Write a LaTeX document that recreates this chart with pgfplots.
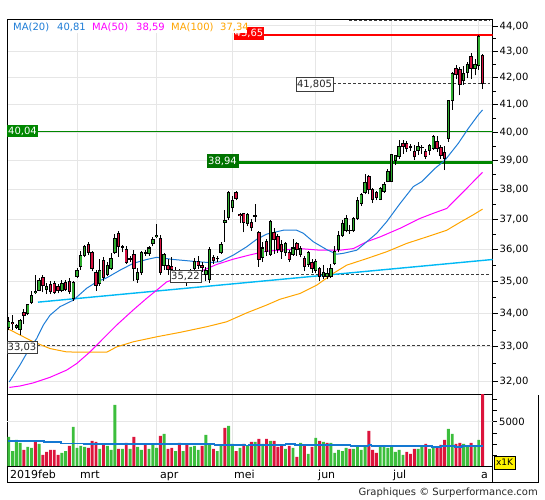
\documentclass[border=0pt]{standalone}
\usepackage{pgfplots}
\pgfplotsset{compat=1.18}
\usepackage{pgfplotstable}
\usepackage{fontspec}
\setmainfont{DejaVu Sans}
\definecolor{cgreen}{RGB}{46,172,46}
\definecolor{cred}{RGB}{214,16,64}
\definecolor{vgreen}{RGB}{60,190,60}
\definecolor{vred}{RGB}{220,20,60}
\definecolor{ma20}{RGB}{30,125,215}
\definecolor{ma50}{RGB}{255,0,255}
\definecolor{ma100}{RGB}{255,165,0}
\definecolor{trend}{RGB}{0,185,245}
\definecolor{gridgray}{RGB}{230,230,230}
\definecolor{dgreen}{RGB}{0,135,0}
\definecolor{dashgray}{RGB}{60,60,60}
\definecolor{vma}{RGB}{20,120,210}

\pgfplotstableread{
k o h l c
-18 33.59 33.89 33.49 33.77
-17 33.74 33.94 33.49 33.69
-16 33.59 33.69 33.54 33.65
-15 33.53 33.84 33.34 33.79
-14 34.04 34.14 33.69 33.94
-13 33.99 34.29 33.94 34.27
-12 34.34 34.71 34.29 34.57
-11 34.64 35.20 34.60 34.68
-10 34.72 35.10 34.68 35.02
-9 35.12 35.20 34.65 34.85
-8 34.75 34.95 34.60 34.82
-7 34.90 35.00 34.60 34.68
-6 34.92 35.00 34.60 34.66
-5 34.82 34.90 34.62 34.70
-4 34.72 35.05 34.65 34.92
-3 34.95 35.05 34.70 34.75
-2 34.98 35.10 34.60 34.68
-1 34.45 35.00 34.40 34.95
0 35.16 35.41 35.11 35.33
1 35.48 35.96 35.36 35.83
2 35.83 36.16 35.76 36.10
3 36.17 36.27 35.82 35.92
4 35.90 35.96 35.31 35.41
5 35.29 35.36 34.70 34.87
6 34.92 35.71 34.85 35.35
7 35.67 35.76 35.01 35.11
8 35.21 35.61 35.16 35.51
9 35.41 35.91 35.36 35.73
10 35.91 36.52 35.86 36.38
11 36.54 36.62 35.77 36.12
12 36.09 36.17 35.92 36.07
13 36.01 36.11 35.56 35.61
14 35.69 35.81 35.61 35.71
15 35.86 36.01 35.01 35.41
16 35.06 35.41 34.96 35.26
17 35.26 35.96 35.21 35.91
18 35.89 36.01 35.81 35.91
19 35.89 36.11 35.81 36.06
20 36.19 36.42 36.11 36.32
21 36.42 36.85 36.37 36.47
22 36.37 36.47 35.21 35.29
23 35.51 35.91 35.36 35.86
24 35.51 35.71 35.21 35.38
25 35.46 35.76 35.06 35.36
26 35.15 35.45 35.05 35.30
27 35.30 35.40 35.00 35.15
28 35.10 35.35 34.95 35.25
29 35.20 35.30 34.85 35.05
30 35.05 35.40 34.95 35.30
31 35.41 35.75 35.30 35.64
32 35.64 35.80 35.40 35.51
33 35.51 35.60 35.30 35.44
34 35.22 35.45 35.00 35.35
35 35.04 36.10 34.95 36.01
36 35.76 35.82 35.56 35.67
37 35.71 35.81 35.61 35.73
38 35.91 36.26 35.86 36.16
39 36.90 37.32 36.27 36.97
40 37.05 37.94 36.98 37.89
41 37.38 37.78 37.23 37.63
42 37.89 37.94 37.63 37.69
43 37.17 37.22 36.87 37.12
44 37.20 37.22 36.57 36.90
45 36.87 37.22 36.77 37.17
46 36.89 37.02 36.62 36.72
47 37.10 37.52 36.92 37.12
48 36.56 36.62 35.46 35.69
49 35.76 36.26 35.61 36.06
50 36.26 36.36 35.81 35.96
51 35.86 36.97 35.81 36.92
52 36.57 36.72 35.88 36.32
53 36.42 36.52 35.91 36.01
54 36.16 36.31 35.71 35.96
55 35.91 36.26 35.81 36.21
56 35.91 36.01 35.61 35.69
57 35.86 36.36 35.81 36.06
58 36.21 36.26 35.81 36.01
59 35.86 36.11 35.76 36.03
60 35.73 35.79 35.31 35.46
61 35.54 35.96 35.46 35.91
62 35.61 35.71 35.26 35.39
63 35.34 35.71 35.26 35.63
64 35.41 35.46 35.01 35.16
65 35.16 35.51 35.06 35.28
66 35.16 35.41 35.06 35.24
67 35.16 35.56 35.11 35.41
68 35.56 36.11 35.51 35.96
69 36.02 36.62 35.92 36.47
70 36.47 36.97 36.42 36.87
71 36.62 37.13 36.57 37.03
72 36.64 36.82 36.52 36.62
73 36.62 37.08 36.57 37.03
74 37.03 37.74 36.98 37.64
75 37.54 37.89 37.44 37.82
76 37.92 38.54 37.84 38.24
77 38.44 38.49 37.84 37.99
78 37.99 38.04 37.54 37.66
79 37.89 37.94 37.64 37.74
80 37.67 38.09 37.64 38.04
81 37.94 38.24 37.89 38.16
82 38.27 38.70 38.25 38.63
83 38.28 39.25 38.25 39.20
84 39.00 39.20 38.85 39.17
85 39.13 39.73 39.05 39.49
86 39.60 39.73 39.25 39.49
87 39.62 39.70 39.30 39.42
88 39.48 39.60 39.35 39.50
89 39.31 39.55 39.02 39.13
90 39.37 39.65 39.20 39.49
91 39.46 39.55 39.25 39.48
92 39.31 39.40 39.05 39.16
93 39.37 39.60 39.20 39.52
94 39.44 39.92 39.37 39.87
95 39.66 39.88 39.30 39.44
96 39.46 39.55 39.05 39.19
97 39.28 39.50 38.67 39.08
98 39.78 41.18 39.66 41.14
99 41.17 42.24 40.81 42.18
100 42.34 42.50 41.95 42.11
101 42.31 42.40 41.35 41.76
102 41.92 42.45 41.75 42.18
103 42.20 42.62 41.98 42.49
104 42.82 42.95 41.95 42.37
105 42.37 42.72 42.10 42.49
106 42.46 43.65 42.30 43.58
107 42.86 42.90 41.58 41.805
}\candles

\pgfplotstableread{
k p
-17.86 31.98
-15.04 32.47
-13.27 32.81
-10.63 33.25
-8.89 33.65
-7.12 33.95
-4.49 34.21
-0.98 34.41
2.56 34.78
5.20 34.98
7.84 35.11
11.35 35.35
14.85 35.57
18.39 35.69
21.03 35.76
25.41 35.69
28.94 35.65
31.58 35.62
35.09 35.59
37.73 35.62
41.24 35.83
44.78 36.10
47.41 36.34
50.05 36.51
52.69 36.59
54.43 36.64
57.97 36.64
59.71 36.54
62.35 36.26
65.88 36.01
68.52 35.86
70.26 35.89
73.80 35.99
76.44 36.26
79.08 36.54
81.71 36.92
85.22 37.53
88.73 38.10
90.95 38.27
94.46 38.73
97.10 39.02
100.61 39.61
103.25 40.14
105.88 40.63
107 40.81
}\maA

\pgfplotstableread{
k p
-17.86 31.82
-15.04 31.86
-11.53 31.95
-7.12 32.11
-2.72 32.32
-0.08 32.51
3.43 32.85
6.94 33.25
10.47 33.65
14.85 34.11
18.39 34.47
21.03 34.72
23.67 34.98
26.31 35.09
29.82 35.22
33.32 35.35
36.86 35.53
41.24 35.70
45.65 35.84
50.05 35.96
53.56 35.99
58.84 36.04
64.12 35.99
69.39 35.99
72.90 36.04
76.44 36.26
79.95 36.42
85.22 36.70
90.50 37.03
94.01 37.20
97.55 37.36
101.06 37.81
104.56 38.27
107 38.59
}\maB

\pgfplotstableread{
k p
-17.86 33.52
-15.04 33.35
-11.53 33.15
-7.12 32.95
-2.72 32.85
2.56 32.84
7.84 32.84
10.47 33.00
14.85 33.15
21.03 33.30
27.18 33.43
34.22 33.60
39.50 33.75
44.78 34.02
50.05 34.26
53.56 34.44
58.84 34.62
63.25 34.88
67.63 35.25
71.16 35.51
76.44 35.72
81.71 35.94
86.99 36.21
92.27 36.42
97.55 36.64
101.06 36.90
104.56 37.15
107 37.34
}\maC

\pgfplotstableread{
k g r
-18 3312 0
-17 1766 0
-16 2981 0
-15 2650 0
-14 0 1877
-13 2208 0
-12 2098 0
-11 0 2760
-10 2539 0
-9 0 1325
-8 0 1656
-7 0 1877
-6 0 1877
-5 0 1325
-4 1546 0
-3 1766 0
-2 0 2318
-1 4416 0
0 2098 0
1 2318 0
2 2208 0
3 0 2098
4 0 2870
5 0 2760
6 1987 0
7 0 2429
8 2318 0
9 1877 0
10 6845 0
11 0 1987
12 1987 0
13 0 2650
14 1987 0
15 0 3312
16 2208 0
17 1877 0
18 0 2429
19 1987 0
20 2429 0
21 2098 0
22 0 3422
23 3643 0
24 0 1987
25 0 2098
26 1766 0
27 0 2650
28 1766 0
29 0 2429
30 2208 0
31 2318 0
32 1877 0
33 0 2318
34 3533 0
35 2429 0
36 0 1987
37 1766 0
38 2429 0
39 0 4306
40 4526 0
41 2539 0
42 0 1766
43 2098 0
44 0 2539
45 2318 0
46 0 2760
47 2760 0
48 0 3091
49 2539 0
50 0 3091
51 2870 0
52 0 2870
53 0 2208
54 0 2318
55 1987 0
56 0 2318
57 2098 0
58 0 1104
59 2650 0
60 0 2318
61 1435 0
62 0 2208
63 3202 0
64 0 2870
65 2760 0
66 0 2650
67 2650 0
68 1546 0
69 1877 0
70 1766 0
71 2098 0
72 0 1987
73 1987 0
74 2318 0
75 1877 0
76 2318 0
77 0 3974
78 0 1877
79 0 1546
80 2318 0
81 2318 0
82 2098 0
83 2318 0
84 1656 0
85 1877 0
86 1325 0
87 0 1656
88 0 1435
89 0 1987
90 1987 0
91 2318 0
92 0 2539
93 1987 0
94 2098 0
95 0 2098
96 0 2429
97 0 2981
98 4195 0
99 3643 0
100 0 2539
101 0 2650
102 2539 0
103 2318 0
104 0 2650
105 2318 0
106 2981 0
107 0 9000
}\vol

\pgfplotstableread{
k v
-18.1 2837
-8.7 2727
-4.3 2616
1.8 2506
36.3 2396
44.3 2355
45.2 2429
55.0 2506
57.5 2396
72.2 2285
76.9 2396
77.7 2285
93.6 2175
96.2 2285
99.7 2175
101.5 2285
107.2 2285
}\volma

\begin{document}
\begin{tikzpicture}[x=1bp,y=1bp]
\useasboundingbox (0,0) rectangle (545,500);
\fontsize{10bp}{12bp}\selectfont
\pgfplotsset{candle/.style={draw=none, mark=none, forget plot,
  error bars/.cd, y dir=plus, y explicit, error mark=none}}
% ---------------- main price panel ----------------
\begin{axis}[
  at={(7bp,105bp)}, anchor=south west, scale only axis,
  width=485.7bp, height=375.5bp,
  xmin=-18.47, xmax=109.68, ymin=3.453248, ymax=3.790020,
  axis line style={black, line width=1bp},
  xtick={0,21,41,63,83,106}, xticklabels={}, xtick style={draw=none},
  xmajorgrids, ymajorgrids,
  major grid style={draw=gridgray, line width=1bp},
  ytick={3.4657359,3.4965076,3.5263605,3.5553480,3.5835189,3.6109179,3.6375862,3.6635617,3.6888794,3.7135721,3.7376696,3.7612001,3.7841897},
  yticklabels={{32,00},{33,00},{34,00},{35,00},{36,00},{37,00},{38,00},{39,00},{40,00},{41,00},{42,00},{43,00},{44,00}},
  minor ytick={3.4812401,3.5115454,3.5409593,3.5695327,3.5973122,3.6243409,3.6506582,3.6763007,3.7013020,3.7256934,3.7495041,3.7727609},
  ytick pos=right, yticklabel pos=right, tick align=outside,
  major tick length=5bp, minor tick length=3bp,
  ytick style={draw=black, line width=0.8bp},
  yticklabel style={font=\fontsize{10bp}{12bp}\selectfont, text=black, xshift=-1.5bp},
]
% horizontal levels
\addplot[dgreen, line width=1.1bp] table[row sep=\\, x=k, y expr={ln(\thisrow{p})}] {k p\\ -18.47 40.04\\ 109.68 40.04\\};
\addplot[dgreen, line width=2.4bp] table[row sep=\\, x=k, y expr={ln(\thisrow{p})}] {k p\\ 42.48 38.94\\ 109.68 38.94\\};
\addplot[red, line width=2bp] table[row sep=\\, x=k, y expr={ln(\thisrow{p})}] {k p\\ 49.08 43.65\\ 109.68 43.65\\};
\addplot[dashgray, line width=0.8bp, dash pattern=on 3bp off 2bp] table[row sep=\\, x=k, y expr={ln(\thisrow{p})}] {k p\\ 67.55 41.805\\ 108.97 41.805\\};
\addplot[dashgray, line width=0.8bp, dash pattern=on 3bp off 2bp] table[row sep=\\, x=k, y expr={ln(\thisrow{p})}] {k p\\ 32.72 35.22\\ 108.97 35.22\\};
\addplot[dashgray, line width=0.8bp, dash pattern=on 3bp off 2bp] table[row sep=\\, x=k, y expr={ln(\thisrow{p})}] {k p\\ -10.55 33.03\\ 108.97 33.03\\};
\addplot[dashgray, line width=0.8bp, dash pattern=on 3bp off 2bp] table[row sep=\\, x=k, y expr={ln(\thisrow{p})}] {k p\\ 71.77 44.22\\ 108.97 44.22\\};
% trend line and moving averages
\addplot[trend, line width=1.4bp] table[row sep=\\, x=k, y expr={ln(\thisrow{p})}] {k p\\ -10.29 34.35\\ 109.68 35.69\\};
\addplot[ma100, line width=1bp] table[x=k, y expr={ln(\thisrow{p})}] {\maC};
\addplot[ma50, line width=1bp] table[x=k, y expr={ln(\thisrow{p})}] {\maB};
\addplot[ma20, line width=1bp] table[x=k, y expr={ln(\thisrow{p})}] {\maA};
% candles: wicks
\addplot[candle, error bar style={draw=black, line width=0.9bp}]
  table[x=k, y expr={ln(\thisrow{l})}, y error expr={ln(\thisrow{h})-ln(\thisrow{l})}] {\candles};
% bodies outline
\addplot[candle, error bar style={draw=black, line width=3.4bp}]
  table[x=k, y expr={ln(min(\thisrow{o},\thisrow{c}))-0.00045}, y error expr={abs(ln(\thisrow{c})-ln(\thisrow{o}))+0.0009}] {\candles};
% green fills
\addplot[candle, error bar style={draw=cgreen, line width=1.6bp}]
  table[x=k, y expr={ln(min(\thisrow{o},\thisrow{c}))+0.00045}, y error expr={ifthenelse(\thisrow{c}>\thisrow{o}, max(ln(\thisrow{c})-ln(\thisrow{o})-0.0009,0), 0)}] {\candles};
% red fills
\addplot[candle, error bar style={draw=cred, line width=1.6bp}]
  table[x=k, y expr={ln(min(\thisrow{o},\thisrow{c}))+0.00045}, y error expr={ifthenelse(\thisrow{c}<\thisrow{o}, max(ln(\thisrow{o})-ln(\thisrow{c})-0.0009,0), 0)}] {\candles};
\end{axis}

% ---------------- volume panel ----------------
\begin{axis}[
  at={(7bp,33bp)}, anchor=south west, scale only axis,
  width=485.7bp, height=72bp,
  xmin=-18.47, xmax=109.68, ymin=0, ymax=7948.8,
  axis line style={black, line width=1bp},
  xtick={0,21,41,63,83,106}, xticklabels={}, xtick style={draw=none},
  xmajorgrids, major grid style={draw=gridgray, line width=1bp},
  ytick={1250,2500,3750,5000,6250,7500},
  yticklabels={,,,{5000},,},
  ytick pos=right, yticklabel pos=right, tick align=outside,
  major tick length=4bp,
  ytick style={draw=black, line width=0.8bp},
  yticklabel style={font=\fontsize{10bp}{12bp}\selectfont, text=black, xshift=-1bp},
]
\addplot[gridgray, line width=1bp] coordinates {(-18.47,5000) (109.68,5000)};
\addplot[ybar, bar width=2.9bp, bar shift=0pt, fill=vgreen, draw=none] table[x=k, y=g] {\vol};
\addplot[ybar, bar width=2.9bp, bar shift=0pt, fill=vred, draw=none] table[x=k, y=r] {\vol};
\addplot[const plot, vma, line width=1.6bp] table[x=k, y=v] {\volma};
\end{axis}

% ---------------- frames of date row ----------------
\draw[black, line width=1bp] (7,17) rectangle (492.7,33);
\draw[black, line width=1bp] (492.7,17) -- (538,17) -- (538,105);

% date labels
\begin{scope}[every node/.style={inner sep=0pt, text=black}]
\fontsize{11bp}{13bp}\selectfont
\node[anchor=base west] at (10,21) {2019feb};
\node[anchor=base west] at (80,21) {mrt};
\node[anchor=base west] at (160,21) {apr};
\node[anchor=base west] at (234,21) {mei};
\node[anchor=base west] at (318,21) {jun};
\node[anchor=base west] at (393,21) {jul};
\node[anchor=base west] at (481,21) {a};
\end{scope}

% footer
\node[anchor=base east, inner sep=0pt, text=black!85] at (538,4.5) {\fontsize{10bp}{12bp}\selectfont Graphiques © Surperformance.com};

% x1K box
\node[fill=yellow, draw=black, line width=0.6bp, minimum width=21bp, minimum height=13bp, inner sep=0pt] at (504.5,37.5) {\fontsize{9bp}{11bp}\selectfont x1K};

% level labels
\node[fill=red, text=white, minimum width=30bp, minimum height=13bp, inner sep=0pt] at (249,466.5) {43,65};
\node[fill=white, inner sep=0pt, minimum width=239bp, minimum height=13bp, anchor=west] at (8,473.5) {};
\begin{scope}[every node/.style={inner sep=0pt, anchor=base west}]
\node[text=ma20] at (13,469.5) {MA(20)};
\node[text=ma20] at (57,469.5) {40,81};
\node[text=ma50] at (92,469.5) {MA(50)};
\node[text=ma50] at (136,469.5) {38,59};
\node[text=ma100] at (171,469.5) {MA(100)};
\node[text=ma100] at (220,469.5) {37,34};
\end{scope}
\node[fill=dgreen, text=white, minimum width=31bp, minimum height=12bp, inner sep=0pt] at (22.5,369) {40,04};
\node[fill=dgreen!85!black, text=white, minimum width=32bp, minimum height=14bp, inner sep=0pt] at (222.5,338.5) {38,94};
\node[fill=white, draw=dashgray, line width=0.8bp, text=black!85, minimum width=37bp, minimum height=14bp, inner sep=0pt] at (314.5,416) {41,805};
\node[fill=white, draw=dashgray, line width=0.8bp, text=black!85, minimum width=31bp, minimum height=12bp, inner sep=0pt] at (185.5,224) {35,22};
\node[fill=white, draw=dashgray, line width=0.8bp, text=black!85, minimum width=30bp, minimum height=12bp, inner sep=0pt] at (22,153) {33,03};
\end{tikzpicture}
\end{document}
